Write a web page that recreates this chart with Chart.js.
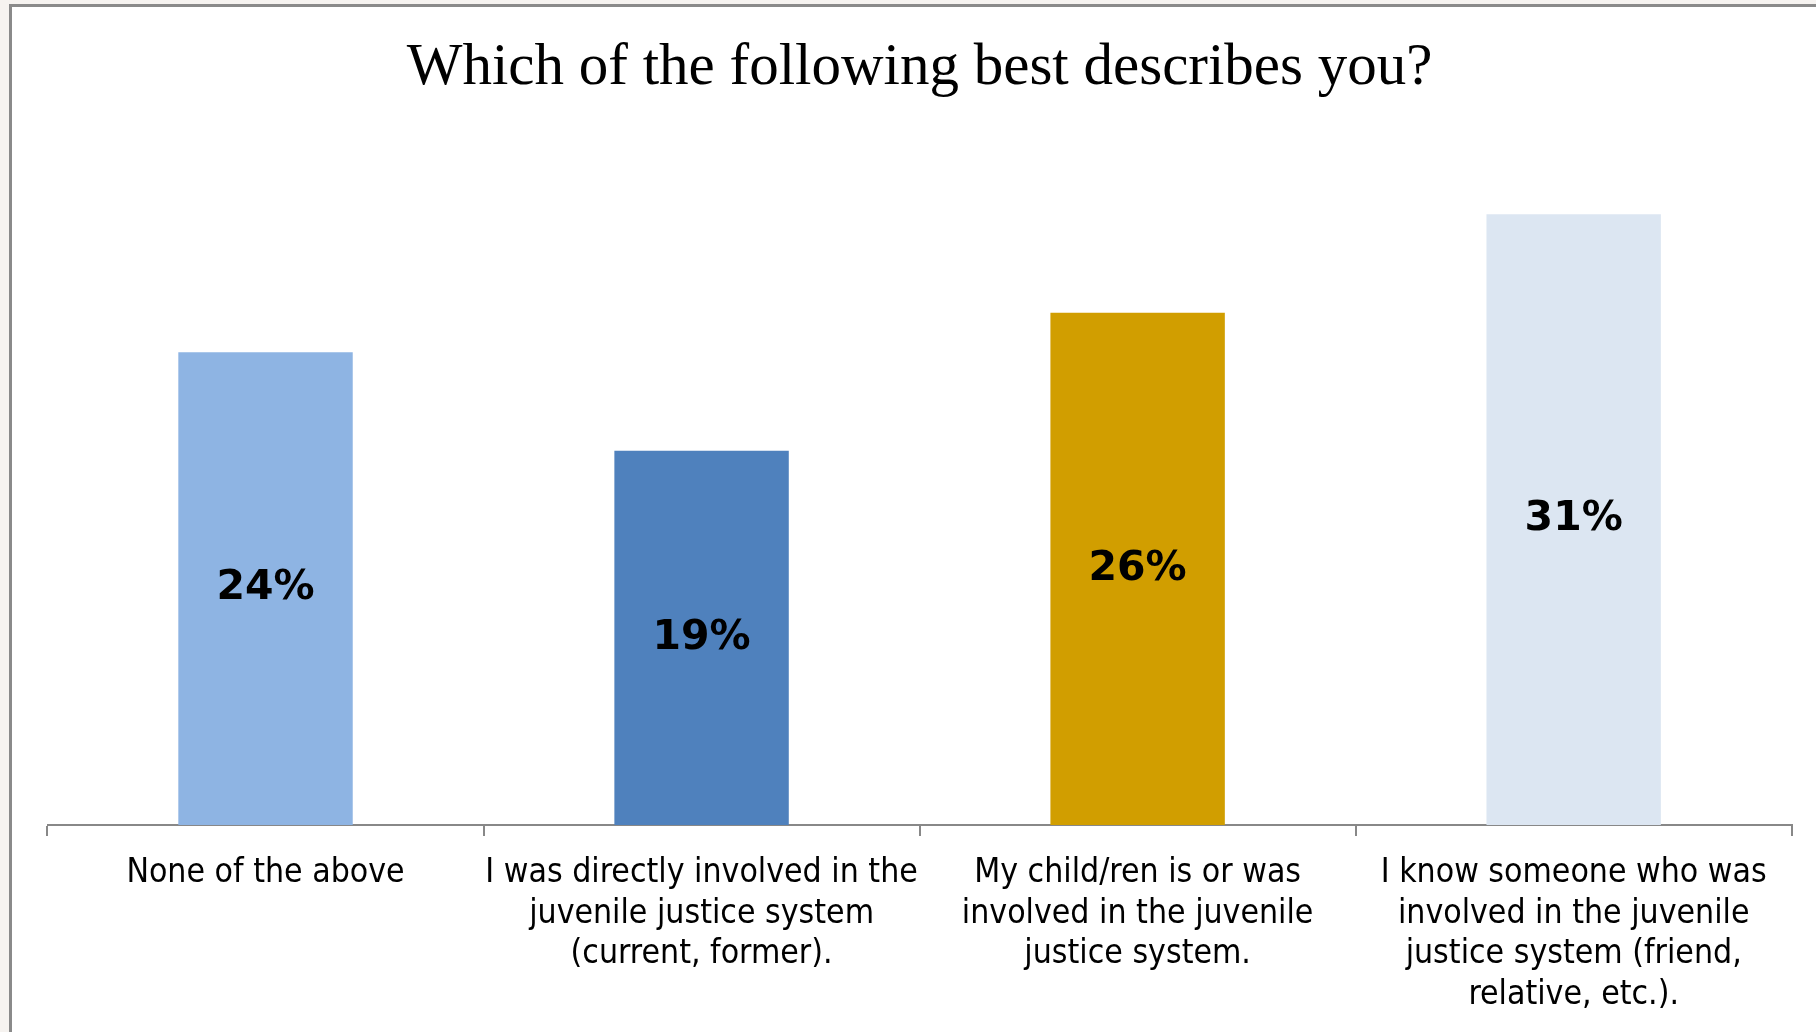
<!DOCTYPE html>
<html>
<head>
<meta charset="utf-8">
<title>Which of the following best describes you?</title>
<script src="https://cdn.jsdelivr.net/npm/chart.js@4.4.1/dist/chart.umd.min.js"></script>
<style>
  html, body { margin: 0; padding: 0; overflow: hidden; background: #f6f3f0; }
  #frame {
    position: absolute; left: 9px; top: 4px; width: 1900px; height: 1100px;
    background: #ffffff;
    border-left: 3px solid #8a8a8a; border-top: 3px solid #8a8a8a;
    box-sizing: border-box;
  }
  #chart { position: absolute; left: 0; top: 0; }
</style>
</head>
<body>
<div id="frame"></div>
<canvas id="chart" width="1816" height="1032"></canvas>
<script>
// Survey question and answers
const chartTitle = 'Which of the following best describes you?';
const categories = [
  ['None of the above'],
  ['I was directly involved in the', 'juvenile justice system', '(current, former).'],
  ['My child/ren is or was', 'involved in the juvenile', 'justice system.'],
  ['I know someone who was', 'involved in the juvenile', 'justice system (friend,', 'relative, etc.).']
];
const percentages = [24, 19, 26, 31];
const barColors = ['#8eb4e3', '#4f81bd', '#d19e00', '#dce6f2'];
const axisMax = 35;

const labelFont = "'DejaVu Sans Condensed', 'DejaVu Sans', sans-serif";

// Centered serif heading above the plot
const headingPlugin = {
  id: 'heading',
  afterDraw(chart) {
    const { ctx, chartArea } = chart;
    ctx.save();
    ctx.font = '59px "Liberation Serif", "Times New Roman", serif';
    ctx.fillStyle = '#000000';
    ctx.textAlign = 'center';
    ctx.textBaseline = 'alphabetic';
    ctx.fillText(chartTitle, (chartArea.left + chartArea.right) / 2, 84);
    ctx.restore();
  }
};

// Percentage written in the middle of each bar
const valueLabels = {
  id: 'valueLabels',
  afterDatasetsDraw(chart) {
    const { ctx } = chart;
    const meta = chart.getDatasetMeta(0);
    ctx.save();
    ctx.font = "bold 41px 'DejaVu Sans', sans-serif";
    ctx.fillStyle = '#000000';
    ctx.textAlign = 'center';
    ctx.textBaseline = 'middle';
    meta.data.forEach((bar, i) => {
      const v = chart.data.datasets[0].data[i];
      ctx.fillText(v + '%', bar.x, (bar.y + bar.base) / 2);
    });
    ctx.restore();
  }
};

new Chart(document.getElementById('chart'), {
  type: 'bar',
  data: {
    labels: categories,
    datasets: [{
      data: percentages,
      backgroundColor: barColors,
      borderWidth: 0,
      barPercentage: 0.4,
      categoryPercentage: 1.0
    }]
  },
  options: {
    responsive: false,
    animation: false,
    devicePixelRatio: 1,
    layout: { padding: { left: 47.5, right: 24.3, top: 135.5, bottom: 0 } },
    plugins: {
      legend: { display: false },
      tooltip: { enabled: false },
      title: { display: false }
    },
    scales: {
      y: {
        display: false,
        min: 0,
        max: axisMax
      },
      x: {
        offset: true,
        border: { display: true, color: '#888888', width: 2 },
        grid: {
          display: true,
          offset: true,
          drawOnChartArea: false,
          drawTicks: true,
          tickLength: 11,
          color: '#888888',
          lineWidth: 2
        },
        ticks: {
          color: '#000000',
          font: { family: labelFont, size: 33.5, lineHeight: 1.21 },
          padding: 17,
          maxRotation: 0,
          minRotation: 0,
          autoSkip: false
        },
        afterFit(scale) { scale.height = 207; }
      }
    }
  },
  plugins: [headingPlugin, valueLabels]
});
</script>
</body>
</html>
